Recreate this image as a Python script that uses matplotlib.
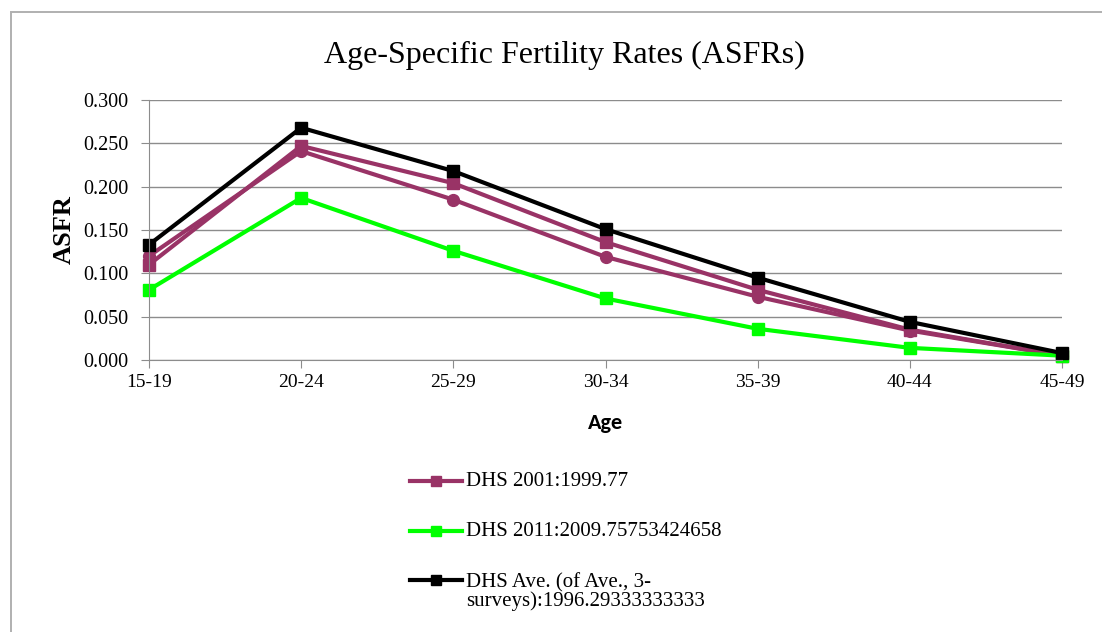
import numpy as np
import matplotlib.pyplot as plt
from matplotlib.patches import Rectangle
from matplotlib.lines import Line2D

ages = ["15-19", "20-24", "25-29", "30-34", "35-39", "40-44", "45-49"]
dhs_2001 = [0.110, 0.247, 0.204, 0.136, 0.081, 0.035, 0.005]
dhs_2006 = [0.120, 0.241, 0.185, 0.119, 0.073, 0.034, 0.005]
dhs_2011 = [0.081, 0.187, 0.126, 0.071, 0.036, 0.014, 0.005]
dhs_ave = [0.133, 0.268, 0.218, 0.151, 0.095, 0.044, 0.008]

purple = "#993366"
green = "#00ff00"

serif = ["Liberation Serif", "DejaVu Serif"]
W, H = 1102, 632

fig = plt.figure(figsize=(W / 100, H / 100), dpi=100)
fig.patches.append(Rectangle((10.5 / W, -0.1), 1.2, 1 - 11.5 / H + 0.1,
                             transform=fig.transFigure, fill=False,
                             edgecolor="#b0b0b0", linewidth=1.4))

ax = fig.add_axes([149 / W, 1 - 360 / H, (1062 - 149) / W, 260 / H])
x = np.arange(len(ages))

series = [
    (dhs_2001, purple, "s", "DHS 2001:1999.77"),
    (dhs_2006, purple, "o", None),
    (dhs_2011, green, "s", "DHS 2011:2009.75753424658"),
    (dhs_ave, "black", "s", "DHS Ave. (of Ave., 3-\nsurveys):1996.29333333333"),
]
for vals, col, mk, lab in series:
    ax.plot(x, vals, color=col, lw=3, marker=mk, ms=8.5, clip_on=False)

ax.set_xlim(0, len(ages) - 1)
ax.set_ylim(0, 0.3)
yt = np.arange(0, 0.301, 0.05)
ax.set_yticks(yt)
ax.set_yticklabels(["%.3f" % v for v in yt], family=serif, fontsize=14.5)
ax.set_xticks(x)
ax.set_xticklabels(ages, family=serif, fontsize=14)
ax.grid(axis="y", color="#8c8c8c", lw=1)
ax.set_axisbelow(True)
for s in ["top", "right"]:
    ax.spines[s].set_visible(False)
for s in ["left", "bottom"]:
    ax.spines[s].set_color("#8c8c8c")
ax.tick_params(axis="both", direction="out", length=6, color="#8c8c8c", pad=4)
ax.tick_params(axis="y", pad=9)

ax.set_ylabel("ASFR", family=serif, fontsize=19, fontweight="bold", labelpad=5)
ax.set_xlabel("Age", family=["Carlito", "Open Sans", "DejaVu Sans"], fontsize=16,
              fontweight="bold", labelpad=16)
fig.text(564 / W, 1 - 55 / H, "Age-Specific Fertility Rates (ASFRs)", family=serif,
         fontsize=23, ha="center", va="center")

# legend, drawn by hand so the handle sits on the first text line
rows = [481, 531, 580]
k = 0
for vals, col, mk, lab in series:
    if lab is None:
        continue
    yf = 1 - rows[k] / H
    fig.add_artist(Line2D([410 / W, 462 / W], [yf, yf], color=col, lw=3,
                          transform=fig.transFigure))
    fig.add_artist(Line2D([436 / W], [yf], color=col, marker=mk, ms=7,
                          transform=fig.transFigure))
    if "\n" in lab:
        fig.text(466 / W, yf + 7 / H, lab, family=serif, fontsize=15,
                 ha="left", va="top", linespacing=0.95)
    else:
        fig.text(466 / W, yf, lab, family=serif, fontsize=15,
                 ha="left", va="center")
    k += 1

fig.savefig("out.png", dpi=100)
